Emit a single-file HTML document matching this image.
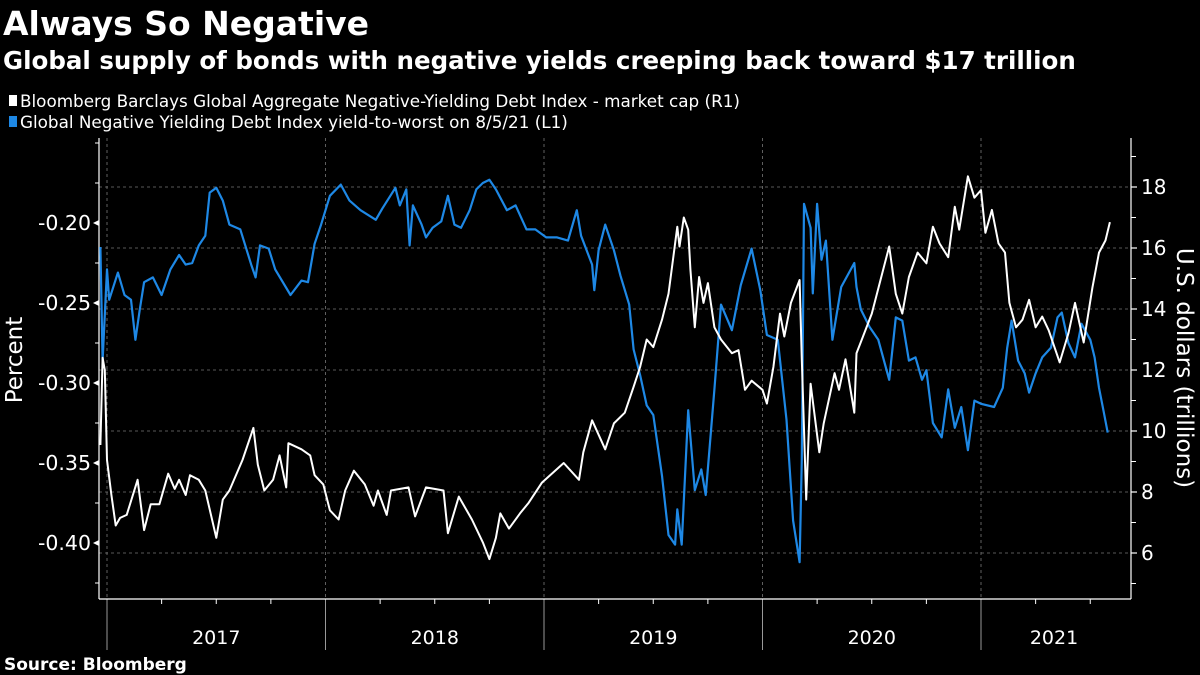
<!DOCTYPE html>
<html><head><meta charset="utf-8"><style>
html,body{margin:0;padding:0;background:#000;width:1200px;height:675px;overflow:hidden}
svg{display:block}
text{font-family:"DejaVu Sans","Liberation Sans",sans-serif;fill:#fff}
</style></head><body>
<svg id="chart" width="1200" height="675" viewBox="0 0 1200 675">
<text x="3" y="35" font-size="33" font-weight="bold">Always So Negative</text>
<text x="3" y="69" font-size="24.5" font-weight="bold">Global supply of bonds with negative yields creeping back toward $17 trillion</text>
<rect x="9" y="95" width="8" height="11" fill="#fff"/>
<text x="20" y="107" font-size="16.8">Bloomberg Barclays Global Aggregate Negative-Yielding Debt Index - market cap (R1)</text>
<rect x="9" y="116" width="8" height="11" fill="#1e88e5"/>
<text x="20" y="128" font-size="16.8">Global Negative Yielding Debt Index yield-to-worst on 8/5/21 (L1)</text>
<g id="grid"></g>
<g id="axes"></g>
<g id="series"></g>
<text transform="translate(22,360) rotate(-90)" text-anchor="middle" font-size="23">Percent</text>
<text transform="translate(1177,368) rotate(90)" text-anchor="middle" font-size="23">U.S. dollars (trillions)</text>
<text x="4" y="670" font-size="17" font-weight="bold">Source: Bloomberg</text>
</svg>
<script>
const blueDates=[2016.97,2016.98,2017.00,2017.01,2017.05,2017.08,2017.11,2017.13,2017.15,2017.17,2017.21,2017.25,2017.29,2017.33,2017.36,2017.39,2017.42,2017.45,2017.47,2017.50,2017.53,2017.56,2017.61,2017.66,2017.68,2017.70,2017.74,2017.77,2017.84,2017.89,2017.92,2017.95,2017.98,2018.02,2018.07,2018.11,2018.16,2018.23,2018.26,2018.32,2018.34,2018.37,2018.385,2018.40,2018.44,2018.46,2018.49,2018.53,2018.56,2018.59,2018.62,2018.66,2018.69,2018.72,2018.75,2018.78,2018.83,2018.87,2018.92,2018.96,2019.01,2019.06,2019.11,2019.15,2019.17,2019.22,2019.23,2019.25,2019.28,2019.32,2019.35,2019.39,2019.41,2019.44,2019.47,2019.50,2019.54,2019.57,2019.60,2019.61,2019.63,2019.66,2019.69,2019.72,2019.74,2019.78,2019.81,2019.86,2019.90,2019.95,2019.99,2020.02,2020.07,2020.11,2020.14,2020.17,2020.18,2020.19,2020.22,2020.23,2020.25,2020.27,2020.29,2020.32,2020.36,2020.42,2020.43,2020.45,2020.49,2020.53,2020.58,2020.61,2020.64,2020.67,2020.70,2020.73,2020.75,2020.78,2020.82,2020.85,2020.88,2020.91,2020.94,2020.97,2021.00,2021.06,2021.10,2021.12,2021.14,2021.17,2021.20,2021.22,2021.25,2021.28,2021.32,2021.35,2021.37,2021.40,2021.43,2021.46,2021.50,2021.52,2021.54,2021.56,2021.58];
const blueValues=[-0.215,-0.286,-0.229,-0.248,-0.231,-0.245,-0.248,-0.273,-0.254,-0.237,-0.234,-0.245,-0.229,-0.220,-0.226,-0.225,-0.214,-0.208,-0.181,-0.178,-0.186,-0.201,-0.204,-0.226,-0.234,-0.214,-0.216,-0.229,-0.245,-0.236,-0.237,-0.213,-0.201,-0.183,-0.176,-0.186,-0.192,-0.198,-0.191,-0.178,-0.189,-0.179,-0.214,-0.189,-0.201,-0.209,-0.203,-0.199,-0.183,-0.201,-0.203,-0.192,-0.179,-0.175,-0.173,-0.179,-0.192,-0.189,-0.204,-0.204,-0.209,-0.209,-0.211,-0.192,-0.208,-0.226,-0.242,-0.217,-0.201,-0.217,-0.233,-0.251,-0.279,-0.295,-0.314,-0.320,-0.358,-0.395,-0.401,-0.379,-0.401,-0.317,-0.367,-0.354,-0.370,-0.304,-0.251,-0.267,-0.239,-0.216,-0.242,-0.270,-0.273,-0.323,-0.386,-0.412,-0.348,-0.188,-0.203,-0.244,-0.188,-0.223,-0.211,-0.273,-0.240,-0.225,-0.240,-0.254,-0.265,-0.273,-0.298,-0.259,-0.261,-0.286,-0.284,-0.298,-0.292,-0.325,-0.334,-0.304,-0.328,-0.315,-0.342,-0.311,-0.313,-0.315,-0.303,-0.278,-0.261,-0.286,-0.294,-0.306,-0.294,-0.284,-0.278,-0.259,-0.256,-0.275,-0.284,-0.263,-0.273,-0.284,-0.303,-0.317,-0.331];
const whiteDates=[2016.97,2016.98,2016.99,2017.00,2017.02,2017.04,2017.06,2017.09,2017.14,2017.17,2017.20,2017.24,2017.28,2017.31,2017.33,2017.36,2017.38,2017.42,2017.45,2017.50,2017.53,2017.56,2017.62,2017.67,2017.69,2017.72,2017.76,2017.79,2017.82,2017.83,2017.89,2017.93,2017.95,2017.99,2018.02,2018.06,2018.09,2018.13,2018.18,2018.22,2018.24,2018.28,2018.30,2018.38,2018.41,2018.46,2018.54,2018.56,2018.61,2018.67,2018.72,2018.75,2018.78,2018.80,2018.84,2018.89,2018.93,2018.99,2019.09,2019.16,2019.18,2019.22,2019.28,2019.32,2019.37,2019.41,2019.44,2019.47,2019.50,2019.54,2019.57,2019.61,2019.62,2019.64,2019.66,2019.67,2019.69,2019.71,2019.73,2019.75,2019.78,2019.81,2019.86,2019.89,2019.92,2019.95,2020.00,2020.02,2020.05,2020.08,2020.10,2020.13,2020.17,2020.18,2020.20,2020.22,2020.26,2020.28,2020.33,2020.35,2020.38,2020.42,2020.43,2020.46,2020.50,2020.54,2020.58,2020.61,2020.64,2020.67,2020.71,2020.75,2020.78,2020.81,2020.85,2020.88,2020.90,2020.94,2020.97,2021.00,2021.02,2021.05,2021.08,2021.11,2021.13,2021.16,2021.19,2021.22,2021.25,2021.28,2021.31,2021.36,2021.40,2021.43,2021.47,2021.51,2021.54,2021.57,2021.59];
const whiteValues=[9.54,12.4,12.0,9.05,7.9,6.9,7.15,7.25,8.4,6.75,7.6,7.6,8.6,8.1,8.4,7.9,8.55,8.4,8.05,6.5,7.75,8.05,9.05,10.1,8.9,8.05,8.4,9.2,8.15,9.6,9.4,9.2,8.55,8.25,7.4,7.1,8.05,8.7,8.25,7.55,8.05,7.25,8.05,8.15,7.2,8.15,8.05,6.65,7.85,7.1,6.35,5.8,6.5,7.3,6.8,7.3,7.65,8.3,8.95,8.4,9.3,10.35,9.4,10.25,10.6,11.45,12.1,13.0,12.75,13.65,14.5,16.7,16.05,17.0,16.6,15.3,13.4,15.05,14.2,14.85,13.4,13.0,12.55,12.65,11.35,11.65,11.35,10.9,12.1,13.85,13.1,14.2,14.95,12.35,7.75,11.55,9.3,10.25,11.9,11.35,12.35,10.6,12.55,13.1,13.85,14.95,16.05,14.5,13.85,15.05,15.85,15.5,16.7,16.15,15.7,17.35,16.6,18.35,17.65,17.9,16.5,17.25,16.15,15.85,14.2,13.4,13.65,14.3,13.4,13.75,13.3,12.25,13.2,14.2,12.9,14.7,15.85,16.25,16.85];
const leftTicks=[-0.20,-0.25,-0.30,-0.35,-0.40];
const leftTickLabels=["-0.20","-0.25","-0.30","-0.35","-0.40"];
const rightTicks=[6,8,10,12,14,16,18];
const rightTickLabels=["6","8","10","12","14","16","18"];
const years=[2017,2018,2019,2020,2021];
const yearLabels=["2017","2018","2019","2020","2021"];

const NS="http://www.w3.org/2000/svg";
const X0=99,X1=1131,YT=138,YB=599;
const xS=d=>107+(d-2017)*218.5;
const yL=v=>223+(-0.20-v)*1600;
const yR=v=>431-(v-10)*30.5;
function mk(tag,attrs,parent){const e=document.createElementNS(NS,tag);for(const k in attrs)e.setAttribute(k,attrs[k]);parent.appendChild(e);return e;}
const grid=document.getElementById('grid'),axes=document.getElementById('axes'),series=document.getElementById('series');

rightTicks.forEach((t,i)=>{
  const g=mk('line',{x1:X0,x2:X1,y1:yR(t),y2:yR(t),stroke:'#777','stroke-width':0.8,'stroke-dasharray':'3,3'},grid);
  
  
  const tk=mk('line',{x1:X1,x2:X1+6,y1:yR(t),y2:yR(t),stroke:'#fff','stroke-width':1.2},axes);
  
  
  const lb=mk('text',{x:X1+10,y:yR(t)+7,'font-size':20},axes);
  lb.textContent=rightTickLabels[i];
  
  
});
for(let v=5;v<=19;v+=2){
  const tk=mk('line',{x1:X1,x2:X1+5,y1:yR(v),y2:yR(v),stroke:'#fff','stroke-width':1},axes);
  
  
}
leftTicks.forEach((t,i)=>{
  const tk=mk('polygon',{points:`${X0},${yL(t)-3} ${X0},${yL(t)+3} ${X0-6},${yL(t)}`,fill:'#fff'},axes);
  
  
  const lb=mk('text',{x:X0-8,y:yL(t)+7,'font-size':20.5,'text-anchor':'end'},axes);
  lb.textContent=leftTickLabels[i];
  
  
});
[-0.15,-0.175,-0.225,-0.275,-0.325,-0.375,-0.425].forEach(v=>{
  const tk=mk('line',{x1:X0,x2:X0-4,y1:yL(v),y2:yL(v),stroke:'#fff','stroke-width':1},axes);
  
  
});
years.forEach((y,i)=>{
  const x=xS(y);
  const g=mk('line',{x1:x,x2:x,y1:YT,y2:YB,stroke:'#777','stroke-width':0.8,'stroke-dasharray':'3,3'},grid);
  
  
  const d=mk('line',{x1:x,x2:x,y1:YB,y2:650,stroke:'#999','stroke-width':1},axes);
  
  
  for(let q=1;q<4;q++){const qx=xS(y+q/4);if(qx<X1){
    const qt=mk('line',{x1:qx,x2:qx,y1:YB,y2:YB+5,stroke:'#fff','stroke-width':1},axes);
    
    }}
  const cx=i<4?xS(y+0.5):(xS(y)+X1)/2-2;
  const lb=mk('text',{x:cx,y:644,'font-size':19,'text-anchor':'middle'},axes);
  lb.textContent=yearLabels[i];
  
  
});
const la=mk('line',{x1:X0,x2:X0,y1:YT,y2:YB,stroke:'#fff','stroke-width':1.2},axes);


const ra=mk('line',{x1:X1,x2:X1,y1:YT,y2:YB,stroke:'#fff','stroke-width':1.2},axes);


const ba=mk('line',{x1:X0,x2:X1,y1:YB,y2:YB,stroke:'#fff','stroke-width':1.2},axes);



const bp=blueDates.map((d,i)=>xS(d).toFixed(1)+','+yL(blueValues[i]).toFixed(1)).join(' ');
const bl=mk('polyline',{points:bp,fill:'none',stroke:'#1e88e5','stroke-width':2.2,'stroke-linejoin':'round'},series);


const wp=whiteDates.map((d,i)=>xS(d).toFixed(1)+','+yR(whiteValues[i]).toFixed(1)).join(' ');
const wl=mk('polyline',{points:wp,fill:'none',stroke:'#fff','stroke-width':2,'stroke-linejoin':'round'},series);


</script>
</body></html>
